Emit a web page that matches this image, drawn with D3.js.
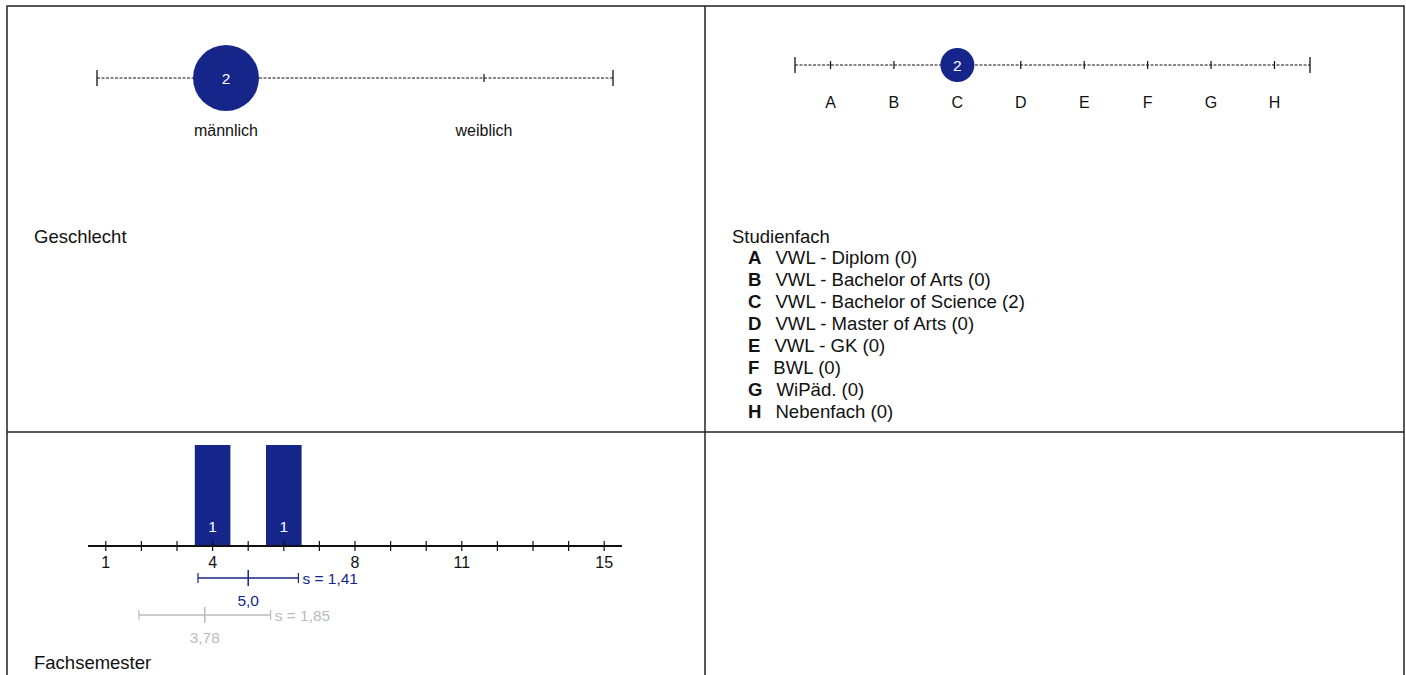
<!DOCTYPE html>
<html>
<head>
<meta charset="utf-8">
<script src="https://cdn.jsdelivr.net/npm/d3@7.9.0/dist/d3.min.js"></script>
<style>
  body { margin: 0; background: #fff; }
  svg text { font-family: "Liberation Sans", Arial, sans-serif; fill: #111; }
</style>
</head>
<body>
<svg id="chart" width="1406" height="675"></svg>
<script>
// Geschlecht
const genderCats = ['männlich', 'weiblich'];
const genderCounts = [2, 0];

// Studienfach
const fachKeys = ['A', 'B', 'C', 'D', 'E', 'F', 'G', 'H'];
const fachNames = ['VWL - Diplom', 'VWL - Bachelor of Arts', 'VWL - Bachelor of Science',
  'VWL - Master of Arts', 'VWL - GK', 'BWL', 'WiPäd.', 'Nebenfach'];
const fachCounts = [0, 0, 2, 0, 0, 0, 0, 0];

// Fachsemester
const semesterTicks = [1, 4, 8, 11, 15];
const semesterValues = [4, 6];
const semesterCounts = [1, 1];
const semesterStats = { mean: 5.0, sd: 1.41, meanLabel: '5,0', sdLabel: 's = 1,41' };
const overallStats = { mean: 3.78, sd: 1.85, meanLabel: '3,78', sdLabel: 's = 1,85' };

const blue = '#15258a';
const grey = '#bbbbbb';

const svg = d3.select('#chart');

// ----------- frame -----------
svg.append('rect')
  .attr('x', 7).attr('y', 6).attr('width', 1397).attr('height', 680)
  .attr('fill', 'none').attr('stroke', '#222').attr('stroke-width', 1.5);
svg.append('line').attr('x1', 705).attr('x2', 705).attr('y1', 6).attr('y2', 675)
  .attr('stroke', '#222').attr('stroke-width', 1.5);
svg.append('line').attr('x1', 7).attr('x2', 1404).attr('y1', 432).attr('y2', 432)
  .attr('stroke', '#222').attr('stroke-width', 1.5);

// ----------- dotted category axis with bubbles -----------
function bubbleAxis(g, cats, counts, x0, x1, y, rMax, labelY, pad) {
  let x = d3.scalePoint().domain(cats).range([x0, x1]).padding(pad);
  let r = d3.scaleSqrt().domain([0, d3.max(counts)]).range([0, rMax]);

  g.append('line').attr('x1', x0).attr('x2', x1).attr('y1', y).attr('y2', y)
    .attr('stroke', '#111').attr('stroke-width', 1.2).attr('stroke-dasharray', '3,1.5');
  [x0, x1].forEach(v => {
    g.append('line').attr('x1', v).attr('x2', v).attr('y1', y - 8).attr('y2', y + 8)
      .attr('stroke', '#111').attr('stroke-width', 1.3);
  });
  g.selectAll('.tick').data(cats).join('line')
    .attr('x1', d => x(d)).attr('x2', d => x(d)).attr('y1', y - 4).attr('y2', y + 4)
    .attr('stroke', '#111').attr('stroke-width', 1.2);
  g.selectAll('.lbl').data(cats).join('text')
    .attr('x', d => x(d)).attr('y', labelY)
    .attr('text-anchor', 'middle').attr('font-size', 16).text(d => d);

  let pts = cats.map((c, i) => ({ c, n: counts[i] })).filter(d => d.n > 0);
  g.selectAll('circle').data(pts).join('circle')
    .attr('cx', d => x(d.c)).attr('cy', y).attr('r', d => r(d.n)).attr('fill', blue);
  g.selectAll('.num').data(pts).join('text')
    .attr('x', d => x(d.c)).attr('y', y + 5.5)
    .attr('text-anchor', 'middle').attr('font-size', 15.5)
    .style('fill', '#fff').text(d => d.n);
}

bubbleAxis(svg.append('g'), genderCats, genderCounts, 97, 613, 78, 33, 136, 0.5);
svg.append('text').attr('x', 34).attr('y', 243).attr('font-size', 18.5).text('Geschlecht');

bubbleAxis(svg.append('g'), fachKeys, fachCounts, 795, 1310, 65, 17, 108, 0.56);
svg.append('text').attr('x', 732).attr('y', 243).attr('font-size', 18.5).text('Studienfach');

let legend = svg.append('g');
fachKeys.forEach((k, i) => {
  let t = legend.append('text').attr('x', 748).attr('y', 264 + i * 22).attr('font-size', 18.6);
  t.append('tspan').attr('font-weight', 'bold').text(k);
  t.append('tspan').attr('dx', 14).text(`${fachNames[i]} (${fachCounts[i]})`);
});

// ----------- Fachsemester histogram -----------
let hx = d3.scaleLinear().domain([0.5, 15.5]).range([88, 622]);
let hy = d3.scaleLinear().domain([0, d3.max(semesterCounts)]).range([546, 445]);
let hist = svg.append('g');
let bw = hx(1) - hx(0);

hist.selectAll('rect').data(semesterValues).join('rect')
  .attr('x', d => hx(d) - bw / 2).attr('width', bw)
  .attr('y', (d, i) => hy(semesterCounts[i]))
  .attr('height', (d, i) => hy(0) - hy(semesterCounts[i]))
  .attr('fill', blue);
hist.selectAll('.num').data(semesterValues).join('text')
  .attr('x', d => hx(d)).attr('y', 532)
  .attr('text-anchor', 'middle').attr('font-size', 15.5)
  .style('fill', '#fff').text((d, i) => semesterCounts[i]);

hist.append('line').attr('x1', hx(0.5)).attr('x2', hx(15.5)).attr('y1', 546).attr('y2', 546)
  .attr('stroke', '#111').attr('stroke-width', 1.8);
hist.selectAll('.tick').data(d3.range(1, 16)).join('line')
  .attr('x1', d => hx(d)).attr('x2', d => hx(d)).attr('y1', 541).attr('y2', 551)
  .attr('stroke', '#111').attr('stroke-width', 1.2);
hist.selectAll('.lbl').data(semesterTicks).join('text')
  .attr('x', d => hx(d)).attr('y', 568)
  .attr('text-anchor', 'middle').attr('font-size', 16).text(d => d);

function sdBar(s, y, color) {
  let g = svg.append('g');
  let a = hx(s.mean - s.sd), b = hx(s.mean + s.sd), m = hx(s.mean);
  g.append('line').attr('x1', a).attr('x2', b).attr('y1', y).attr('y2', y).attr('stroke', color).attr('stroke-width', 1.5);
  [a, b].forEach(v => g.append('line').attr('x1', v).attr('x2', v).attr('y1', y - 5).attr('y2', y + 5).attr('stroke', color).attr('stroke-width', 1.2));
  g.append('line').attr('x1', m).attr('x2', m).attr('y1', y - 8).attr('y2', y + 8).attr('stroke', color).attr('stroke-width', 1.5);
  g.append('text').attr('x', b + 4).attr('y', y + 6).attr('font-size', 15.5).style('fill', color).text(s.sdLabel);
  g.append('text').attr('x', m).attr('y', y + 28).attr('text-anchor', 'middle').attr('font-size', 15.5).style('fill', color).text(s.meanLabel);
}
sdBar(semesterStats, 578, blue);
sdBar(overallStats, 615, grey);

svg.append('text').attr('x', 34).attr('y', 669).attr('font-size', 18.5).text('Fachsemester');
</script>
</body>
</html>
